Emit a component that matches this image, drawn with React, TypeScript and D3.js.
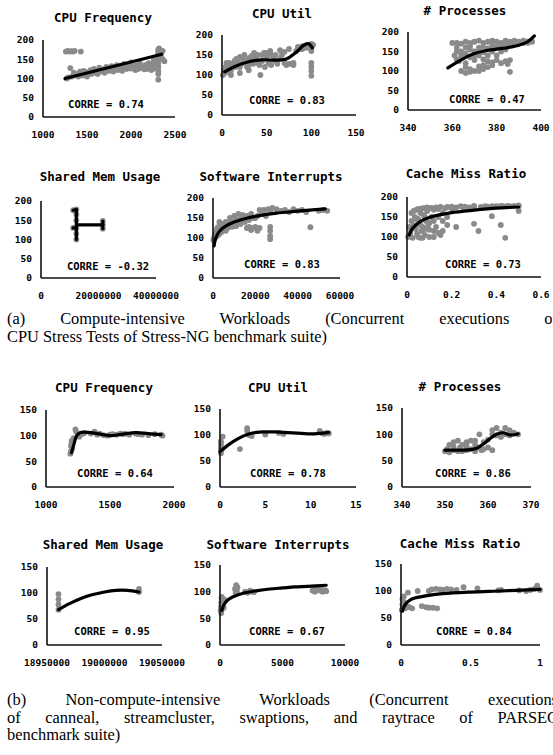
import React, { useRef, useEffect } from 'react';
import * as d3 from 'd3';

type Pt = [number, number];

// ---------- data: (a) compute-intensive ----------
const aFreqPts: Pt[] = [
  [1260, 170], [1280, 172], [1300, 170], [1320, 171], [1340, 170], [1360, 172], [1430, 170],
  [1270, 100], [1290, 103], [1310, 127], [1330, 105], [1380, 110], [1400, 112], [1420, 118],
  [1440, 115], [1460, 120], [1480, 118], [1500, 110], [1520, 115], [1540, 122], [1560, 118],
  [1580, 125], [1600, 120], [1620, 112], [1640, 128], [1660, 122], [1680, 118], [1700, 125],
  [1720, 130], [1740, 122], [1760, 128], [1780, 132], [1800, 125], [1820, 130], [1840, 135],
  [1860, 128], [1880, 125], [1900, 132], [1920, 138], [1940, 128], [1960, 135], [1980, 130],
  [2000, 142], [2020, 130], [2040, 128], [2060, 135], [2080, 125], [2100, 140], [2120, 130],
  [2140, 128], [2160, 135], [2180, 125], [2200, 140], [2220, 130], [2240, 135], [2260, 148],
  [2280, 145], [2300, 128], [2310, 175], [2310, 170], [2310, 165], [2310, 160], [2310, 150],
  [2310, 140], [2310, 130], [2310, 120], [2310, 112], [2310, 97], [2320, 178], [2330, 168],
  [2340, 160], [2360, 150], [2380, 145], [2360, 172], [1350, 115], [1450, 108], [1550, 112],
  [1650, 118], [1750, 120], [1850, 122], [1950, 125], [2050, 122], [2150, 124], [2250, 125],
  [2230, 122], [2270, 130], [2290, 135], [2250, 140], [2200, 128], [2100, 127], [2000, 126],
  [1900, 120], [1800, 118], [1700, 115], [1600, 115], [1500, 105], [1400, 105],
];
const aFreqTrend: Pt[] = [[1250, 100], [2350, 163]];

const aUtilPts: Pt[] = [
  [1, 100], [2, 110], [3, 105], [4, 120], [5, 115], [6, 125], [7, 108], [8, 130], [9, 118],
  [10, 112], [12, 128], [14, 135], [15, 120], [16, 140], [18, 132], [20, 145], [22, 128],
  [24, 138], [25, 150], [27, 130], [28, 120], [30, 142], [32, 135], [33, 148], [35, 128],
  [36, 155], [38, 140], [40, 150], [42, 125], [43, 100], [45, 135], [47, 155], [48, 120],
  [50, 145], [52, 130], [54, 160], [55, 125], [58, 140], [60, 135], [62, 128], [65, 162],
  [67, 150], [70, 130], [72, 125], [75, 165], [78, 128], [80, 130], [83, 160], [85, 170],
  [88, 165], [90, 172], [92, 170], [95, 168], [97, 175], [100, 178], [100, 172], [100, 165],
  [100, 160], [100, 130], [100, 120], [100, 110], [100, 98], [102, 175], [98, 170],
  [5, 130], [10, 125], [15, 135], [20, 120], [25, 135], [30, 125], [35, 145], [40, 130],
  [45, 150], [50, 155], [55, 150], [60, 150], [65, 140], [70, 158], [75, 128], [80, 125],
  [85, 165], [90, 165], [95, 172], [20, 105], [10, 100], [30, 112],
];
const aUtilTrend: Pt[] = [
  [3, 108], [15, 122], [30, 133], [45, 138], [60, 137], [72, 140], [82, 155], [92, 175],
  [97, 178], [101, 168],
];

const aProcPts: Pt[] = [
  [360, 172], [362, 172], [364, 170], [366, 175], [368, 172], [370, 175], [372, 178],
  [374, 172], [376, 175], [378, 178], [380, 175], [382, 172], [384, 178], [386, 175],
  [388, 178], [390, 175], [392, 178], [394, 176], [396, 175], [364, 150], [366, 145],
  [368, 155], [370, 150], [372, 160], [374, 148], [376, 158], [378, 150], [380, 162],
  [382, 165], [384, 155], [386, 168], [368, 135], [370, 128], [372, 140], [374, 130],
  [376, 125], [378, 122], [380, 128], [382, 120], [384, 125], [386, 128], [366, 110],
  [368, 105], [370, 100], [372, 112], [374, 115], [366, 120], [363, 125], [362, 130],
  [364, 100], [386, 98], [385, 118], [362, 160], [361, 140], [362, 150], [364, 140],
  [366, 160], [368, 165], [370, 140], [372, 150], [374, 160], [376, 140], [378, 165],
  [380, 140], [382, 150], [384, 170], [388, 170], [390, 172], [392, 172], [394, 172],
  [366, 95], [368, 98], [372, 100], [374, 105], [376, 110], [378, 115],
];
const aProcTrend: Pt[] = [
  [358, 108], [362, 122], [366, 135], [370, 145], [375, 152], [380, 156], [385, 160],
  [390, 166], [394, 175], [397, 190],
];

const aMemPts: Pt[] = [
  [12300000, 100], [12300000, 115], [12300000, 130], [12300000, 150], [12300000, 165],
  [12300000, 178], [11200000, 176], [11200000, 130], [21500000, 128], [21500000, 138],
  [21500000, 148],
];
const aMemTrend: Pt[][] = [
  [[11200000, 176], [12300000, 178], [12300000, 100]],
  [[11200000, 130], [12300000, 130]],
  [[12300000, 138], [21500000, 138]],
  [[21500000, 128], [21500000, 148]],
];

const aIrqPts: Pt[] = [
  [200, 95], [500, 100], [800, 105], [1000, 110], [1500, 118], [2000, 125], [2500, 115],
  [3000, 130], [3500, 120], [4000, 128], [5000, 135], [5500, 125], [6000, 130], [7000, 138],
  [8000, 132], [9000, 140], [10000, 130], [11000, 145], [12000, 138], [13000, 148],
  [14000, 142], [15000, 150], [16000, 125], [17000, 128], [18000, 120], [19000, 125],
  [20000, 128], [21000, 118], [22000, 125], [16000, 155], [18000, 160], [20000, 150],
  [22000, 170], [24000, 170], [26000, 172], [28000, 175], [27000, 165], [27000, 128],
  [27000, 118], [27000, 105], [27000, 97], [30000, 172], [32000, 168], [34000, 170],
  [36000, 165], [38000, 172], [40000, 168], [42000, 170], [44000, 165], [46000, 127],
  [50000, 168], [52000, 170], [54000, 168], [8000, 150], [10000, 155], [12000, 160],
  [14000, 158], [24000, 160], [25000, 155], [1000, 100], [2000, 105], [3000, 110],
  [4000, 115], [5000, 120], [6000, 118], [7000, 125], [9000, 128], [11000, 130],
  [13000, 135], [15000, 140], [17000, 145], [19000, 150], [21000, 155], [23000, 165],
  [4000, 135], [6000, 140], [3000, 140],
];
const aIrqTrend: Pt[] = [
  [500, 80], [1000, 94], [2000, 108], [4000, 122], [7000, 133], [10000, 140], [15000, 148],
  [20000, 154], [30000, 162], [40000, 167], [53000, 173],
];

const aCachePts: Pt[] = [
  [0.005, 100], [0.01, 125], [0.015, 110], [0.02, 140], [0.025, 98], [0.03, 130],
  [0.035, 150], [0.04, 120], [0.045, 108], [0.05, 145], [0.055, 135], [0.06, 160],
  [0.065, 115], [0.07, 125], [0.075, 155], [0.08, 105], [0.085, 140], [0.09, 165],
  [0.095, 130], [0.1, 118], [0.11, 150], [0.12, 168], [0.13, 125], [0.14, 170],
  [0.15, 105], [0.16, 160], [0.17, 172], [0.18, 130], [0.2, 172], [0.22, 125], [0.22, 174],
  [0.25, 175], [0.28, 174], [0.3, 176], [0.3, 133], [0.32, 115], [0.33, 175], [0.36, 176],
  [0.38, 152], [0.4, 177], [0.42, 130], [0.43, 177], [0.44, 98], [0.46, 177], [0.48, 178],
  [0.5, 165], [0.5, 177], [0.05, 170], [0.08, 172], [0.1, 172], [0.03, 165], [0.12, 100],
  [0.14, 110], [0.1, 100], [0.06, 98], [0.16, 115], [0.02, 160], [0.04, 168], [0.06, 170],
  [0.07, 172], [0.09, 174], [0.11, 173], [0.13, 174], [0.15, 175], [0.18, 175], [0.2, 176],
  [0.24, 177], [0.26, 176], [0.3, 178], [0.35, 177], [0.38, 177], [0.42, 178], [0.45, 178],
  [0.5, 179], [0.02, 120], [0.04, 145], [0.06, 130], [0.08, 150], [0.1, 135], [0.12, 140],
  [0.14, 150], [0.16, 140], [0.18, 150], [0.12, 115], [0.08, 120], [0.05, 100], [0.07, 98],
];
const aCacheTrend: Pt[] = [
  [0.01, 105], [0.02, 118], [0.04, 130], [0.07, 142], [0.1, 149], [0.15, 156], [0.2, 161],
  [0.3, 167], [0.4, 172], [0.5, 175],
];

// ---------- data: (b) non-compute-intensive ----------
const bFreqPts: Pt[] = [
  [1190, 65], [1195, 70], [1195, 80], [1200, 85], [1200, 90], [1205, 75], [1210, 88],
  [1215, 95], [1230, 112], [1235, 108], [1250, 100], [1260, 98], [1280, 103], [1300, 105],
  [1350, 104], [1380, 108], [1400, 102], [1420, 104], [1450, 101], [1480, 100], [1500, 102],
  [1520, 103], [1550, 102], [1580, 104], [1600, 103], [1620, 104], [1650, 102], [1700, 104],
  [1720, 103], [1750, 102], [1800, 101], [1850, 103], [1900, 102], [1910, 100],
];
const bFreqTrend: Pt[] = [
  [1200, 67], [1220, 85], [1240, 100], [1270, 106], [1300, 107], [1400, 104], [1500, 100],
  [1600, 103], [1700, 106], [1800, 104], [1900, 102],
];

const bUtilPts: Pt[] = [
  [0.1, 65], [0.1, 70], [0.1, 75], [0.1, 80], [0.1, 85], [0.1, 88], [0.2, 72], [0.3, 97],
  [2.2, 73], [3, 108], [3, 113], [3.2, 100], [3.5, 98], [5, 101], [6.5, 104], [7, 102],
  [11, 108], [11.2, 104], [11.5, 102], [11.8, 104], [12, 103],
];
const bUtilTrend: Pt[] = [
  [0, 68], [1, 82], [2, 93], [3, 101], [4, 105], [5, 106], [6, 106], [7, 105], [8, 104],
  [9, 103], [10, 102], [11, 103], [12, 105],
];

const bProcPts: Pt[] = [
  [350, 68], [350.5, 72], [351, 66], [351, 80], [352, 70], [352, 85], [353, 68], [353, 88],
  [353.5, 75], [354, 80], [354, 68], [355, 85], [355, 70], [356, 72], [356, 88], [357, 68],
  [357, 80], [358, 75], [358, 100], [358.5, 70], [359, 85], [359, 72], [360, 75], [361, 70],
  [361, 100], [361, 108], [362, 98], [362, 112], [363, 103], [363, 95], [364, 112],
  [364, 100], [365, 108], [365, 98], [366, 103], [367, 100], [360, 90], [357, 88],
  [352, 76], [355, 78],
];
const bProcTrend: Pt[] = [
  [350, 70], [352, 70], [354, 70], [356, 71], [357.5, 74], [359, 82], [360.5, 92],
  [362, 100], [363.5, 103], [365, 99], [366, 99], [367, 101],
];

const bMemPts: Pt[] = [
  [18960000, 68], [18960000, 78], [18960000, 88], [18960000, 98], [19030000, 102],
  [19030000, 108],
];
const bMemTrend: Pt[] = [
  [18960000, 68], [18970000, 80], [18980000, 90], [18990000, 97], [19000000, 102],
  [19010000, 105], [19020000, 105], [19030000, 102],
];

const bIrqPts: Pt[] = [
  [50, 65], [80, 72], [100, 80], [120, 88], [150, 68], [200, 75], [250, 82], [300, 70],
  [350, 85], [150, 90], [100, 60], [1200, 105], [1300, 112], [1350, 100], [1400, 108],
  [1250, 98], [2000, 100], [2200, 98], [2400, 102], [2600, 100], [2700, 99], [7400, 102],
  [7600, 100], [7800, 104], [8000, 102], [8200, 100], [8400, 103], [8500, 101], [7500, 105],
  [8100, 104],
];
const bIrqTrend: Pt[] = [
  [150, 65], [300, 75], [600, 84], [1000, 90], [2000, 98], [3000, 102], [4000, 105],
  [5000, 107], [6000, 109], [7000, 110], [8500, 112],
];

const bCachePts: Pt[] = [
  [0.005, 65], [0.01, 75], [0.01, 85], [0.015, 70], [0.02, 90], [0.02, 80], [0.03, 68],
  [0.04, 72], [0.05, 97], [0.06, 70], [0.12, 100], [0.15, 72], [0.18, 70], [0.2, 69],
  [0.23, 69], [0.26, 68], [0.2, 100], [0.22, 103], [0.25, 104], [0.28, 103], [0.3, 102],
  [0.33, 104], [0.36, 103], [0.4, 102], [0.45, 107], [0.55, 105], [0.7, 101], [0.72, 102],
  [0.85, 101], [0.9, 100], [0.93, 102], [0.96, 104], [0.98, 110], [1.0, 102], [0.08, 68],
];
const bCacheTrend: Pt[] = [
  [0.01, 63], [0.02, 70], [0.04, 78], [0.07, 84], [0.1, 87], [0.2, 92], [0.3, 95],
  [0.5, 98], [0.7, 100], [1.0, 103],
];

// tick labels
const yTicksA = [0, 50, 100, 150, 200];
const yTicksB = [0, 50, 100, 150];

const captionA = [
  '(a) Compute-intensive Workloads (Concurrent executions of',
  'CPU Stress Tests of Stress-NG benchmark suite)',
];
const captionB = [
  '(b) Non-compute-intensive Workloads (Concurrent executions',
  'of canneal, streamcluster, swaptions, and raytrace of PARSEC',
  'benchmark suite)',
];

interface Panel {
  title: string;
  corre: string;
  points: Pt[];
  trend: Pt[][];
  smooth: boolean;
  xDomain: [number, number];
  xTicks: number[];
  yTicks: number[];
  box: [number, number, number, number]; // left, right, top, bottom
  titleAt: [number, number];
  correAt: [number, number];
}

const panels: Panel[] = [
  { title: 'CPU Frequency', corre: 'CORRE = 0.74', points: aFreqPts, trend: [aFreqTrend], smooth: false,
    xDomain: [1000, 2500], xTicks: [1000, 1500, 2000, 2500], yTicks: yTicksA,
    box: [43, 175, 40, 117], titleAt: [103, 22], correAt: [106, 108] },
  { title: 'CPU Util', corre: 'CORRE = 0.83', points: aUtilPts, trend: [aUtilTrend], smooth: true,
    xDomain: [0, 150], xTicks: [0, 50, 100, 150], yTicks: yTicksA,
    box: [222, 356, 35, 115], titleAt: [282, 18], correAt: [287, 104] },
  { title: '# Processes', corre: 'CORRE = 0.47', points: aProcPts, trend: [aProcTrend], smooth: true,
    xDomain: [340, 400], xTicks: [340, 360, 380, 400], yTicks: yTicksA,
    box: [408, 541, 32, 110], titleAt: [465, 15], correAt: [487, 103] },
  { title: 'Shared Mem Usage', corre: 'CORRE = -0.32', points: aMemPts, trend: aMemTrend, smooth: false,
    xDomain: [0, 40000000], xTicks: [0, 20000000, 40000000], yTicks: yTicksA,
    box: [41, 156, 201, 278], titleAt: [100, 181], correAt: [108, 270] },
  { title: 'Software Interrupts', corre: 'CORRE = 0.83', points: aIrqPts, trend: [aIrqTrend], smooth: true,
    xDomain: [0, 60000], xTicks: [0, 20000, 40000, 60000], yTicks: yTicksA,
    box: [213, 340, 198, 278], titleAt: [271, 181], correAt: [282, 268] },
  { title: 'Cache Miss Ratio', corre: 'CORRE = 0.73', points: aCachePts, trend: [aCacheTrend], smooth: true,
    xDomain: [0, 0.6], xTicks: [0, 0.2, 0.4, 0.6], yTicks: yTicksA,
    box: [407, 541, 197, 277], titleAt: [466, 178], correAt: [483, 268] },
  { title: 'CPU Frequency', corre: 'CORRE = 0.64', points: bFreqPts, trend: [bFreqTrend], smooth: true,
    xDomain: [1000, 2000], xTicks: [1000, 1500, 2000], yTicks: yTicksB,
    box: [46, 174, 410, 487], titleAt: [104, 392], correAt: [115, 477] },
  { title: 'CPU Util', corre: 'CORRE = 0.78', points: bUtilPts, trend: [bUtilTrend], smooth: true,
    xDomain: [0, 15], xTicks: [0, 5, 10, 15], yTicks: yTicksB,
    box: [220, 356, 409, 487], titleAt: [278, 392], correAt: [288, 477] },
  { title: '# Processes', corre: 'CORRE = 0.86', points: bProcPts, trend: [bProcTrend], smooth: true,
    xDomain: [340, 370], xTicks: [340, 350, 360, 370], yTicks: yTicksB,
    box: [402, 531, 408, 487], titleAt: [460, 391], correAt: [473, 477] },
  { title: 'Shared Mem Usage', corre: 'CORRE = 0.95', points: bMemPts, trend: [bMemTrend], smooth: true,
    xDomain: [18950000, 19050000], xTicks: [18950000, 19000000, 19050000], yTicks: yTicksB,
    box: [47, 162, 567, 645], titleAt: [103, 549], correAt: [112, 635] },
  { title: 'Software Interrupts', corre: 'CORRE = 0.67', points: bIrqPts, trend: [bIrqTrend], smooth: true,
    xDomain: [0, 10000], xTicks: [0, 5000, 10000], yTicks: yTicksB,
    box: [220, 345, 565, 645], titleAt: [278, 549], correAt: [287, 635] },
  { title: 'Cache Miss Ratio', corre: 'CORRE = 0.84', points: bCachePts, trend: [bCacheTrend], smooth: true,
    xDomain: [0, 1], xTicks: [0, 0.5, 1], yTicks: yTicksB,
    box: [401, 540, 564, 645], titleAt: [460, 548], correAt: [474, 635] },
];

const MONO = '"DejaVu Sans Mono", monospace';
const SERIF = '"Liberation Serif", "Times New Roman", serif';
const W = 553;
const H = 755;

const App: React.FC = () => {
  const svgRef = useRef<SVGSVGElement>(null);

  useEffect(() => {
    if (!svgRef.current) return;
    const svg = d3.select(svgRef.current);
    svg.selectAll('*').remove();

    svg.append('rect').attr('width', W).attr('height', H).attr('fill', '#fff');

    panels.forEach((p) => {
      const [left, right, top, bottom] = p.box;
      const x = d3.scaleLinear().domain(p.xDomain).range([left, right]);
      const yMax = p.yTicks[p.yTicks.length - 1];
      const y = d3.scaleLinear().domain([0, yMax]).range([bottom, top]);
      const g = svg.append('g');

      // points
      g.selectAll('circle')
        .data(p.points)
        .enter()
        .append('circle')
        .attr('cx', (d) => x(d[0]))
        .attr('cy', (d) => y(d[1]))
        .attr('r', 2.9)
        .attr('fill', '#8a8a8a');

      // trend line
      const line = d3
        .line<Pt>()
        .x((d) => x(d[0]))
        .y((d) => y(d[1]))
        .curve(p.smooth ? d3.curveCatmullRom.alpha(0.5) : d3.curveLinear);
      p.trend.forEach((seg) => {
        g.append('path')
          .datum(seg)
          .attr('fill', 'none')
          .attr('stroke', '#000')
          .attr('stroke-width', 3.2)
          .attr('stroke-linecap', 'round')
          .attr('stroke-linejoin', 'round')
          .attr('d', line);
      });

      // axes lines
      g.append('line')
        .attr('x1', left).attr('x2', left)
        .attr('y1', top).attr('y2', bottom)
        .attr('stroke', '#111').attr('stroke-width', 1.6);
      g.append('line')
        .attr('x1', left).attr('x2', right)
        .attr('y1', bottom).attr('y2', bottom)
        .attr('stroke', '#111').attr('stroke-width', 1.6);

      // tick labels
      g.selectAll('.yt')
        .data(p.yTicks)
        .enter()
        .append('text')
        .attr('x', left - 9)
        .attr('y', (d) => y(d))
        .attr('dy', '0.35em')
        .attr('text-anchor', 'end')
        .attr('font-family', MONO)
        .attr('font-weight', 'bold')
        .attr('font-size', 9.5)
        .text((d) => String(d));
      g.selectAll('.xt')
        .data(p.xTicks)
        .enter()
        .append('text')
        .attr('x', (d) => x(d))
        .attr('y', bottom + 21)
        .attr('text-anchor', 'middle')
        .attr('font-family', MONO)
        .attr('font-weight', 'bold')
        .attr('font-size', 9.5)
        .text((d) => String(d));

      // title and correlation
      g.append('text')
        .attr('x', p.titleAt[0])
        .attr('y', p.titleAt[1])
        .attr('text-anchor', 'middle')
        .attr('font-family', MONO)
        .attr('font-weight', 'bold')
        .attr('font-size', 12.5)
        .text(p.title);
      g.append('text')
        .attr('x', p.correAt[0])
        .attr('y', p.correAt[1])
        .attr('text-anchor', 'middle')
        .attr('font-family', MONO)
        .attr('font-weight', 'bold')
        .attr('font-size', 10.5)
        .text(p.corre);
    });

    // captions (justified lines stretched by word spacing)
    const addCaption = (lines: string[], y0: number) => {
      lines.forEach((txt, i) => {
        const t = svg
          .append('text')
          .attr('x', 7)
          .attr('y', y0 + i * 17.5)
          .attr('font-family', SERIF)
          .attr('font-size', 16.4)
          .attr('fill', '#000')
          .text(txt);
        if (i < lines.length - 1) {
          const node = t.node() as SVGTextElement;
          const len = node.getComputedTextLength();
          const gaps = txt.split(' ').length - 1;
          const extra = (558 - 7 - len) / gaps;
          if (extra > 0) t.attr('word-spacing', extra);
        }
      });
    };
    addCaption(captionA, 324);
    addCaption(captionB, 705);
  }, []);

  return (
    <svg
      ref={svgRef}
      width={W}
      height={H}
      style={{ position: 'absolute', left: 0, top: 0, display: 'block' }}
    />
  );
};

export default App;
